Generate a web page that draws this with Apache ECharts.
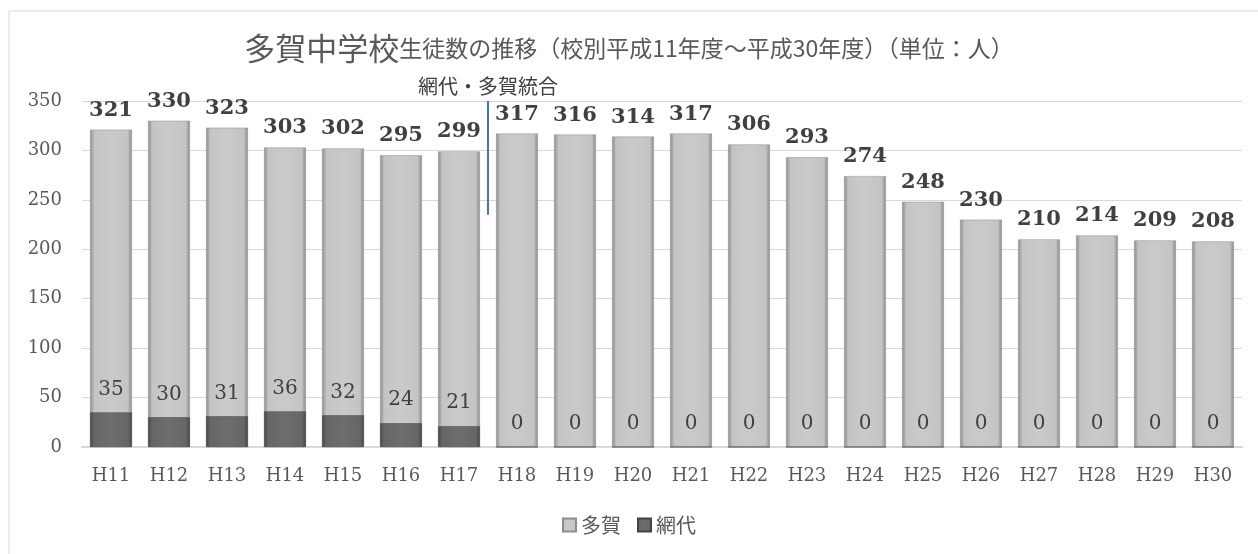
<!DOCTYPE html>
<html><head><meta charset="utf-8">
<script src="https://cdn.jsdelivr.net/npm/echarts@6/dist/echarts.min.js"></script>
<style>html,body{margin:0;padding:0;background:#fff}#c{width:1258px;height:554px}</style>
</head><body><div id="c"></div>
<script>
const categories = ['H11','H12','H13','H14','H15','H16','H17','H18','H19','H20','H21','H22','H23','H24','H25','H26','H27','H28','H29','H30'];
const tagaValues = [321,330,323,303,302,295,299,317,316,314,317,306,293,274,248,230,210,214,209,208];
const ajiroValues = [35,30,31,36,32,24,21,0,0,0,0,0,0,0,0,0,0,0,0,0];
const yTicks = { min: 0, max: 350, interval: 50 };
const mergeNote = '網代・多賀統合';
const mergeBetween = ['H17','H18'];
const mergeRange = [350, 235];

const serif = '"DejaVu Serif", "Liberation Serif", serif';
const sans = '"Noto Sans CJK JP", "Noto Sans", sans-serif';
const lightGrad = new echarts.graphic.LinearGradient(0,0,1,0,[
  {offset:0,color:'#8a8a8a'},{offset:0.1,color:'#c4c4c4'},{offset:0.5,color:'#cacaca'},{offset:0.9,color:'#c4c4c4'},{offset:1,color:'#8a8a8a'}]);
const darkGrad = new echarts.graphic.LinearGradient(0,0,1,0,[
  {offset:0,color:'#4a4a4a'},{offset:0.1,color:'#666666'},{offset:0.5,color:'#6e6e6e'},{offset:0.9,color:'#666666'},{offset:1,color:'#4a4a4a'}]);

const chart = echarts.init(document.getElementById('c'));
const border = {type:'rect', shape:{x:9,y:11,width:1270,height:570}, style:{fill:'none', stroke:'#d9d9d9', lineWidth:1}, silent:true, z:-1};
chart.setOption({
  animation: false,
  backgroundColor: '#fff',
  graphic: [border],
  title: {
    text: '{a|多賀中学校}{b|生徒数の推移（校別平成11年度～平成30年度）（単位：人）}',
    left: 'center', top: 28,
    textStyle: { fontWeight: 'normal', rich: {
      a: {fontFamily: sans, fontSize: 31, fontWeight: 'normal', color: '#595959'},
      b: {fontFamily: sans, fontSize: 23, fontWeight: 'normal', color: '#595959'}
    }}
  },
  legend: {
    bottom: 14, left: 'center',
    itemWidth: 13, itemHeight: 13, itemGap: 16,
    icon: 'rect',
    textStyle: {fontFamily: sans, fontSize: 20, color: '#595959'},
    data: ['多賀','網代']
  },
  grid: {left: 82, right: 16, top: 101, bottom: 107, containLabel: false},
  xAxis: {
    type: 'category', data: categories,
    axisLine: {lineStyle: {color: '#d9d9d9', width: 2}},
    axisTick: {show: false},
    axisLabel: {fontFamily: serif, fontSize: 18, color: '#595959', margin: 20}
  },
  yAxis: {
    type: 'value', min: yTicks.min, max: yTicks.max, interval: yTicks.interval,
    axisLine: {show: false}, axisTick: {show: false},
    splitLine: {lineStyle: {color: '#d9d9d9', width: 1}},
    axisLabel: {fontFamily: serif, fontSize: 18, color: '#595959', margin: 20}
  },
  series: [
    {
      name: '多賀', type: 'bar', data: tagaValues, barWidth: '72%', barGap: '-100%',
      itemStyle: {color: lightGrad, borderColor: '#8c8c8c', borderWidth: 0.5},
      label: {show: true, position: 'top', distance: 9, fontFamily: serif, fontWeight: 'bold', fontSize: 21, color: '#404040'}
    },
    {
      name: '網代', type: 'bar', data: ajiroValues, barWidth: '72%',
      itemStyle: {color: darkGrad, borderColor: '#444', borderWidth: 0.5},
      label: {show: true, position: 'top', distance: 13, fontFamily: serif, fontSize: 20, color: '#404040'}
    }
  ]
});
const pA = chart.convertToPixel({gridIndex:0}, [mergeBetween[0], mergeRange[0]]);
const pB = chart.convertToPixel({gridIndex:0}, [mergeBetween[1], mergeRange[1]]);
const mx = (pA[0] + pB[0]) / 2;
chart.setOption({
  graphic: [border,
    {type:'line', shape:{x1:mx, y1:pA[1], x2:mx, y2:pB[1]}, style:{stroke:'#4472c4', lineWidth:2}, silent:true, z:10},
    {type:'text', x:mx, y:pA[1]-15, style:{text:mergeNote, fontFamily:sans, fontSize:20, fill:'#404040', align:'center', verticalAlign:'middle'}, silent:true, z:10}
  ]
});
</script></body></html>
